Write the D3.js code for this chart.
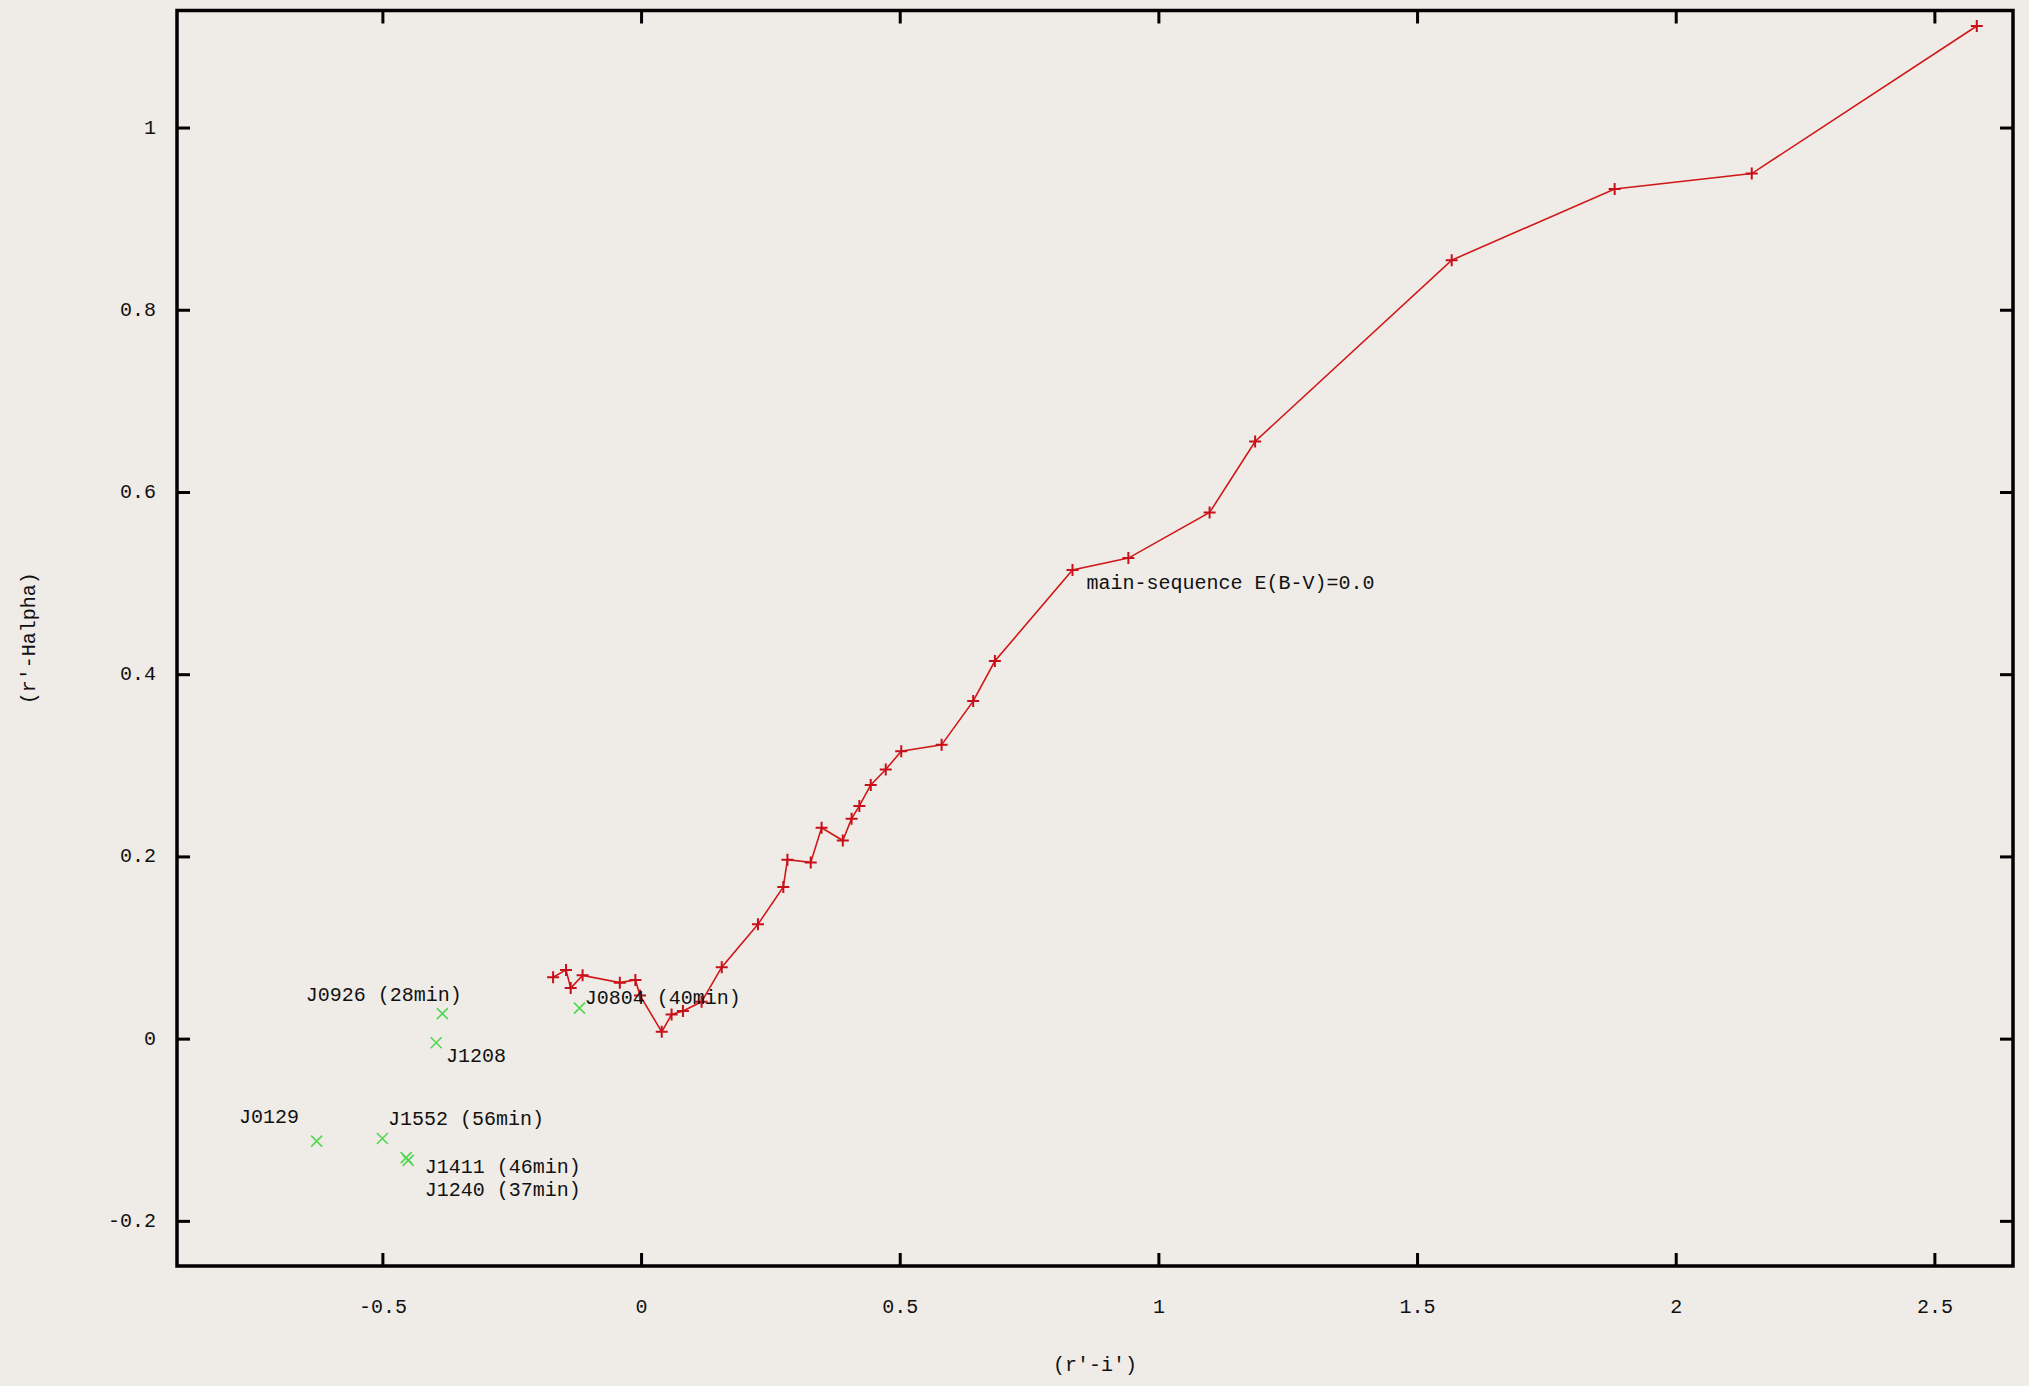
<!DOCTYPE html>
<html><head><meta charset="utf-8">
<script src="https://cdn.jsdelivr.net/npm/d3@7"></script>
<style>
html,body{margin:0;padding:0;background:#efebe7;}
svg{display:block;}
text{font-family:"Liberation Mono","DejaVu Sans Mono",monospace;font-size:20px;fill:#111;}
</style></head>
<body>
<svg id="chart" width="2029" height="1386"></svg>
<script>
// Main sequence track E(B-V)=0.0
const msX = [-0.171,-0.146,-0.137,-0.114,-0.042,-0.012,-0.003,0.039,0.058,0.080,0.116,0.155,0.225,0.274,0.282,0.327,0.348,0.389,0.406,0.421,0.443,0.472,0.502,0.580,0.641,0.683,0.833,0.941,1.098,1.186,1.566,1.881,2.146,2.581];
const msY = [0.068,0.076,0.056,0.070,0.062,0.065,0.048,0.008,0.027,0.031,0.041,0.079,0.126,0.167,0.197,0.194,0.232,0.218,0.242,0.256,0.279,0.296,0.316,0.323,0.371,0.415,0.515,0.528,0.578,0.656,0.855,0.933,0.950,1.112];

// Objects
const objX = [-0.385,-0.397,-0.120,-0.628,-0.501,-0.455,-0.451];
const objY = [0.028,-0.004,0.034,-0.112,-0.109,-0.130,-0.133];

// Labels (text, x, y in data coordinates)
const labelText = ["J0926 (28min)","J1208","J0804 (40min)","J0129","J1552 (56min)","J1411 (46min)","J1240 (37min)","main-sequence E(B-V)=0.0"];
const labelX = [-0.649,-0.378,-0.110,-0.778,-0.490,-0.419,-0.419,0.860];
const labelY = [0.048,-0.019,0.045,-0.086,-0.088,-0.141,-0.166,0.500];

const xTicks = [-0.5,0,0.5,1,1.5,2,2.5];
const yTicks = [-0.2,0,0.2,0.4,0.6,0.8,1];
const xDomain = [-0.898, 2.651];
const yDomain = [-0.249, 1.129];
const xTitle = "(r'-i')";
const yTitle = "(r'-Halpha)";

const L = 177, R = 2013, T = 10.5, B = 1266;
const svg = d3.select("#chart");
const x = d3.scaleLinear().domain(xDomain).range([L, R]);
const y = d3.scaleLinear().domain(yDomain).range([B, T]);

// ticks (inward, mirrored)
const tl = 13;
const g = svg.append("g");
xTicks.forEach(v => {
  g.append("line").attr("x1", x(v)).attr("x2", x(v)).attr("y1", B).attr("y2", B - tl).attr("stroke", "#000").attr("stroke-width", 3);
  g.append("line").attr("x1", x(v)).attr("x2", x(v)).attr("y1", T).attr("y2", T + tl).attr("stroke", "#000").attr("stroke-width", 3);
  g.append("text").attr("x", x(v)).attr("y", 1307).attr("text-anchor", "middle").attr("dominant-baseline", "central").text(d3.format("")(v).replace("−","-"));
});
yTicks.forEach(v => {
  g.append("line").attr("x1", L).attr("x2", L + tl).attr("y1", y(v)).attr("y2", y(v)).attr("stroke", "#000").attr("stroke-width", 3);
  g.append("line").attr("x1", R).attr("x2", R - tl).attr("y1", y(v)).attr("y2", y(v)).attr("stroke", "#000").attr("stroke-width", 3);
  g.append("text").attr("x", 156).attr("y", y(v)).attr("text-anchor", "end").attr("dominant-baseline", "central").text(d3.format("")(v).replace("−","-"));
});

// border
svg.append("rect").attr("x", L).attr("y", T).attr("width", R - L).attr("height", B - T)
  .attr("fill", "none").attr("stroke", "#000").attr("stroke-width", 3.5);

// axis titles
svg.append("text").attr("x", (L + R) / 2).attr("y", 1365).attr("text-anchor", "middle").attr("dominant-baseline", "central").text(xTitle);
svg.append("text").attr("transform", `translate(29,${(T + B) / 2}) rotate(-90)`).attr("text-anchor", "middle").attr("dominant-baseline", "central").text(yTitle);

// main sequence line
const ms = msX.map((v, i) => [v, msY[i]]);
svg.append("path").datum(ms)
  .attr("d", d3.line().x(d => x(d[0])).y(d => y(d[1])))
  .attr("fill", "none").attr("stroke", "#d01818").attr("stroke-width", 1.6);
const s = 6;
svg.append("g").selectAll("path").data(ms).join("path")
  .attr("d", d => { const px = x(d[0]), py = y(d[1]); return `M${px - s},${py}H${px + s}M${px},${py - s}V${py + s}`; })
  .attr("stroke", "#c8101a").attr("stroke-width", 2);

// objects
const obj = objX.map((v, i) => [v, objY[i]]);
const k = 5.5;
svg.append("g").selectAll("path").data(obj).join("path")
  .attr("d", d => { const px = x(d[0]), py = y(d[1]); return `M${px - k},${py - k}L${px + k},${py + k}M${px - k},${py + k}L${px + k},${py - k}`; })
  .attr("stroke", "#4fd84f").attr("stroke-width", 1.6);

// labels
svg.append("g").selectAll("text").data(labelText).join("text")
  .attr("x", (d, i) => x(labelX[i])).attr("y", (d, i) => y(labelY[i]))
  .attr("dominant-baseline", "central").text(d => d);
</script>
</body></html>
